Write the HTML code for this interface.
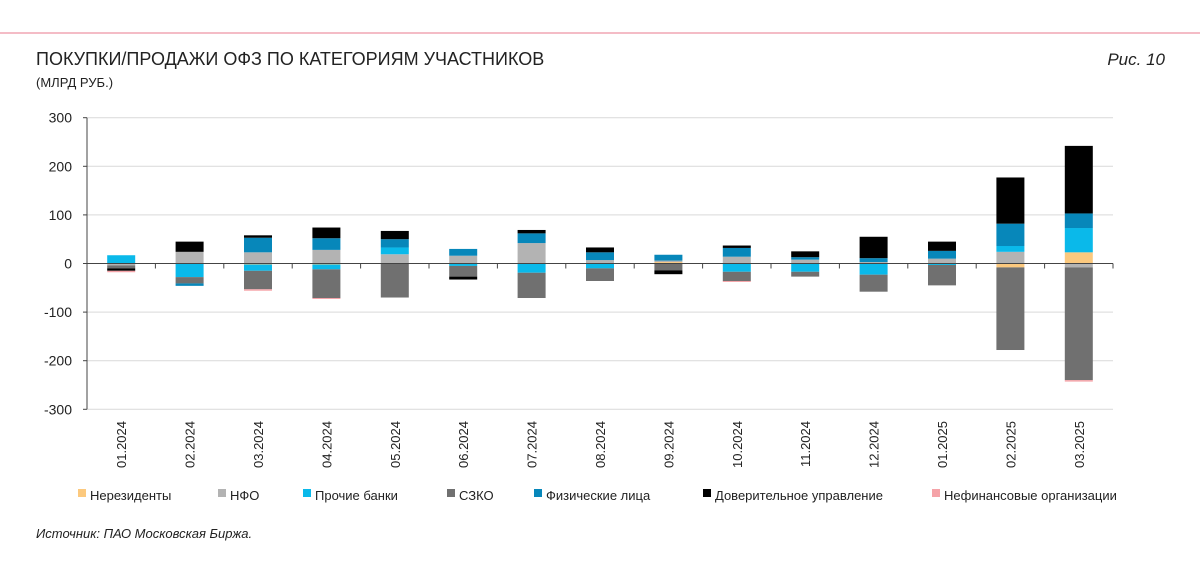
<!DOCTYPE html>
<html><head><meta charset="utf-8">
<style>
html,body{margin:0;padding:0;background:#fff;width:1200px;height:570px;overflow:hidden;font-family:"Liberation Sans",sans-serif;}
svg text{font-family:"Liberation Sans","DejaVu Sans",sans-serif;}
</style></head>
<body>
<svg id="chart" width="1200" height="570" viewBox="0 0 1200 570" xmlns="http://www.w3.org/2000/svg">
<line x1="0" y1="33" x2="1200" y2="33" stroke="#f0a6b4" stroke-width="1.5"/>
<text x="36" y="65" font-size="18" fill="#222">ПОКУПКИ/ПРОДАЖИ ОФЗ ПО КАТЕГОРИЯМ УЧАСТНИКОВ</text>
<text x="36" y="87" font-size="13" fill="#222">(МЛРД РУБ.)</text>
<text x="1165" y="65" font-size="17" fill="#222" font-style="italic" text-anchor="end">Рис. 10</text>
<text x="36" y="538" font-size="13" fill="#222" font-style="italic">Источник: ПАО Московская Биржа.</text>
<g id="grid"></g><g id="bars"></g><g id="axes"></g><g id="legend"></g>
</svg>
<script>
const categories=["01.2024","02.2024","03.2024","04.2024","05.2024","06.2024","07.2024","08.2024","09.2024","10.2024","11.2024","12.2024","01.2025","02.2025","03.2025"];
const seriesNames=["Нерезиденты","НФО","Прочие банки","СЗКО","Физические лица","Доверительное управление","Нефинансовые организации"];
const seriesColors=["#fcc97e","#b3b3b3","#0ab9ea","#707070","#0787ba","#000000","#f5a3a8"];
const nerez =[0,0,-2,-2,0,0,0,0,3,0,0,0,0,-8,23];
const nfo   =[-4,24,23,28,19,16,42,7,3,14,8,3,10,24,-8];
const banks =[17,-28,-13,-10,14,-5,-19,-10,0,-17,-17,-23,-3,12,50];
const szko  =[-6,-13,-38,-59,-70,-22,-52,-26,-14,-19,-10,-35,-42,-170,-232];
const phys  =[0,-5,30,24,17,14,20,16,12,18,5,8,16,46,30];
const du    =[-5,21,5,22,17,-6,7,10,-8,5,12,44,19,95,139];
const nonfin=[-3,0,-3,-2,0,0,0,0,0,-2,0,0,0,0,-3];
const yTicks=[300,200,100,0,-100,-200,-300];
const series=[nerez,nfo,banks,szko,phys,du,nonfin];
const NS="http://www.w3.org/2000/svg";
const X0=87,X1=1113,band=(X1-X0)/categories.length,barW=28;
function y(v){return 263.5-v*0.486;}
function xc(i){return X0+band*(i+0.5);}
function mk(tag,attrs,parent){const e=document.createElementNS(NS,tag);for(const k in attrs)e.setAttribute(k,attrs[k]);parent.appendChild(e);return e;}
const grid=document.getElementById('grid'),bars=document.getElementById('bars'),axes=document.getElementById('axes'),legend=document.getElementById('legend');
yTicks.forEach(t=>{
  if(t!==0){const l=mk('line',{x1:X0,x2:X1,y1:y(t),y2:y(t),stroke:'#d9d9d9','stroke-width':1},grid);
  
  }
  const tk=mk('line',{x1:X0-4,x2:X0,y1:y(t),y2:y(t),stroke:'#444'},axes);
  
  
  const tx=mk('text',{x:72,y:y(t)+5,'font-size':14,'text-anchor':'end',fill:'#222'},axes);
  tx.textContent=t;
  
  
});
categories.forEach((c,i)=>{
  let pos=0,neg=0;
  series.forEach((s,si)=>{
    const v=s[i];if(!v)return;
    let y0,y1;
    if(v>0){y0=pos;y1=pos+v;pos=y1;}else{y0=neg;y1=neg+v;neg=y1;}
    const r=mk('rect',{x:xc(i)-barW/2,y:Math.min(y(y0),y(y1)),width:barW,height:Math.abs(y(y1)-y(y0)),fill:seriesColors[si]},bars);
    
    
  });
  const lb=mk('text',{x:0,y:0,'font-size':13,fill:'#222','text-anchor':'end',transform:`translate(${xc(i)+5},421) rotate(-90)`},axes);
  lb.textContent=c;
  
  
  if(i>0){const t=mk('line',{x1:X0+band*i,x2:X0+band*i,y1:y(0),y2:y(0)+5,stroke:'#444'},axes);
  
  }
});
const ax=mk('line',{x1:X0,x2:X0,y1:y(300),y2:y(-300),stroke:'#444'},axes);


const zx=mk('line',{x1:X0,x2:X1,y1:y(0),y2:y(0),stroke:'#444'},axes);


const endT=mk('line',{x1:X1,x2:X1,y1:y(0),y2:y(0)+5,stroke:'#444'},axes);


const legX=[78,218,303,447,534,703,932];
seriesNames.forEach((n,i)=>{
  const g=mk('g',{},legend);
  
  
  mk('rect',{x:legX[i],y:489,width:8,height:8,fill:seriesColors[i]},g);
  const t=mk('text',{x:legX[i]+12,y:500,'font-size':13,fill:'#222'},g);
  t.textContent=n;
});
</script>
</body></html>
